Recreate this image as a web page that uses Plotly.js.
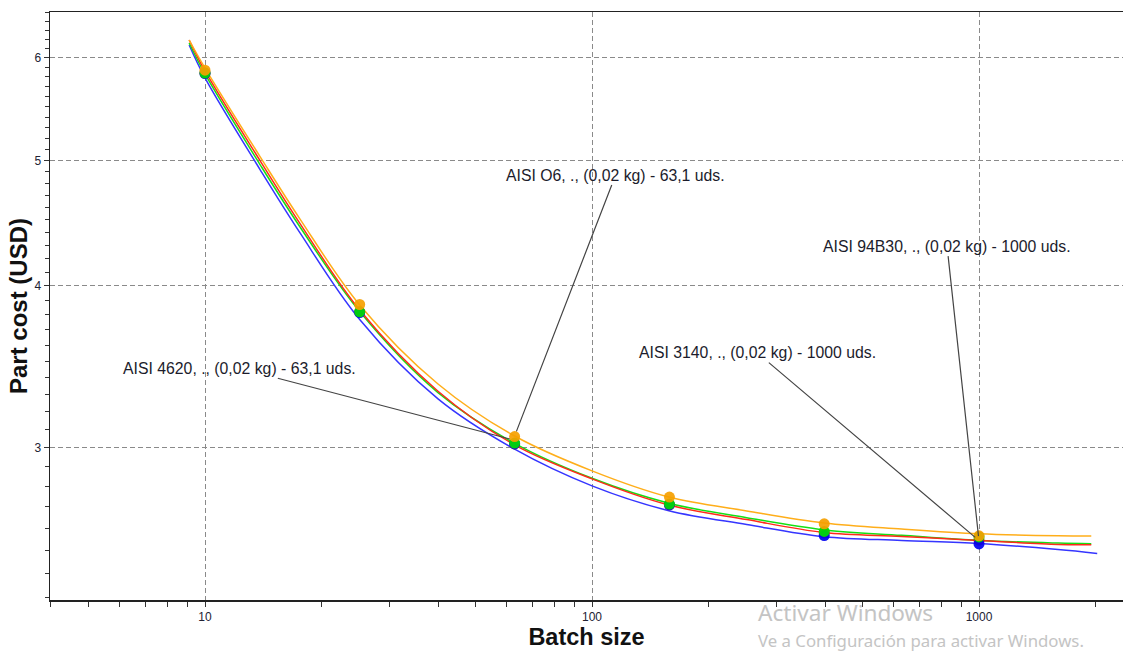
<!DOCTYPE html>
<html><head><meta charset="utf-8">
<script src="https://cdn.plot.ly/plotly-3.0.1.min.js"></script>
<style>html,body{margin:0;padding:0;background:#fff}#chart{width:1123px;height:651px}</style>
</head><body><div id="chart"></div>
<script>
// fitted curves
const curveX     = [9.1, 10, 13.9, 17.6, 25.1, 40, 63.1, 100, 158, 251, 398, 631, 1000, 1600, 1950];
const curveXBlue = [9.1, 10, 13.9, 17.6, 25.1, 40, 63.1, 100, 158, 251, 398, 631, 1000, 1600, 2020];
const orangeCurve = [6.194, 5.893, 5.030, 4.505, 3.867, 3.36, 3.063, 2.879, 2.748, 2.681, 2.624, 2.596, 2.574, 2.565, 2.564];
const redCurve    = [6.194, 5.862, 4.994, 4.469, 3.832, 3.317, 3.015, 2.838, 2.709, 2.640, 2.580, 2.562, 2.544, 2.526, 2.525];
const greenCurve  = [6.161, 5.831, 4.959, 4.442, 3.822, 3.309, 3.023, 2.841, 2.718, 2.649, 2.592, 2.567, 2.544, 2.532, 2.529];
const blueCurve   = [6.139, 5.790, 4.915, 4.395, 3.768, 3.272, 2.992, 2.803, 2.682, 2.617, 2.561, 2.544, 2.530, 2.503, 2.486];

// calculated points
const pointX    = [10, 25.1, 63.1, 158.5, 398.1, 1000];
const orangePts = [5.87, 3.87, 3.06, 2.748, 2.62, 2.565];
const redPts    = [5.84, 3.82, 3.02, 2.71, 2.578, 2.545];
const bluePts   = [5.835, 3.815, 3.02, 2.71, 2.566, 2.528];
const greenPts  = [5.84, 3.82, 3.025, 2.714, 2.585, 2.56];

// axes
const xMajorTicks = [10, 100, 1000];
const xMinorTicks = [4,5,6,7,8,9,20,30,40,50,60,70,80,90,200,300,400,500,600,700,800,900,2000];
const yMajorTicks = [3, 4, 5, 6];
const yMinorTicks = [2.3,2.4,2.5,2.6,2.7,2.8,2.9,3.1,3.2,3.3,3.4,3.5,3.6,3.7,3.8,3.9,
                     4.1,4.2,4.3,4.4,4.5,4.6,4.7,4.8,4.9,5.1,5.2,5.3,5.4,5.5,5.6,5.7,5.8,5.9,
                     6.1,6.2,6.3,6.4,6.5];

// labels
const labelTexts = ['AISI O6, ., (0,02 kg) - 63,1 uds.', 'AISI 4620, ., (0,02 kg) - 63,1 uds.',
                    'AISI 94B30, ., (0,02 kg) - 1000 uds.', 'AISI 3140, ., (0,02 kg) - 1000 uds.'];
const labelX = [63.1, 63.1, 1000, 1000];
const labelY = [3.063, 3.04, 2.541, 2.543];
const labelAx = [101, -275, -32, -222];
const labelAy = [-261, -72, -295, -188];

const colors = {orange:'#ffae1a', red:'#ff2a1a', green:'#14e014', blue:'#3535ff'};
const mcolors = {orange:'#f5a000', red:'#e02010', green:'#00dd00', blue:'#0000f0'};

const lineTrace = (x, y, c, name) => ({x, y, type:'scatter', mode:'lines', name,
  line:{color:c, width:1.5, shape:'spline', smoothing:1}, hoverinfo:'skip'});
const ptTrace = (y, c, name) => ({x:pointX, y, type:'scatter', mode:'markers', name,
  marker:{color:c, size:11, opacity:0.92, line:{width:0}}});

const data = [
  lineTrace(curveXBlue, blueCurve, colors.blue, 'AISI 4620'),
  lineTrace(curveX, greenCurve, colors.green, 'AISI 3140'),
  lineTrace(curveX, redCurve, colors.red, 'AISI 94B30'),
  lineTrace(curveX, orangeCurve, colors.orange, 'AISI O6'),
  ptTrace(redPts, mcolors.red, 'AISI 94B30'),
  ptTrace(bluePts, mcolors.blue, 'AISI 4620'),
  ptTrace(greenPts, mcolors.green, 'AISI 3140'),
  ptTrace(orangePts, mcolors.orange, 'AISI O6')
];

const annotations = labelTexts.map((t,i) => ({
  x: Math.log10(labelX[i]), y: Math.log10(labelY[i]), xref:'x', yref:'y',
  text: t, showarrow:true, arrowhead:0, arrowwidth:1.2, arrowcolor:'#444',
  ax: labelAx[i], ay: labelAy[i], standoff:5,
  font:{family:'Liberation Sans, Arial, sans-serif', size:15.8, color:'#1c1c2c'}
}));
annotations.push({xref:'paper', yref:'paper', x:0.658, y:-0.0221, xanchor:'left', yanchor:'middle',
  text:'Activar Windows', showarrow:false,
  font:{family:'Noto Sans, Open Sans, sans-serif', size:22.6, color:'#c4c4c4'}});
annotations.push({xref:'paper', yref:'paper', x:0.658, y:-0.0697, xanchor:'left', yanchor:'middle',
  text:'Ve a Configuración para activar Windows.', showarrow:false,
  font:{family:'Noto Sans, Open Sans, sans-serif', size:16.8, color:'#c4c4c4'}});

const titleFont = s => ({size:s, color:'#111', family:'Liberation Sans, Arial, sans-serif', weight:'bold'});

const layout = {
  width:1123, height:651,
  margin:{l:50, r:0, t:12, b:51},
  paper_bgcolor:'#fff', plot_bgcolor:'#fff',
  showlegend:false,
  font:{family:'Liberation Sans, Arial, sans-serif', color:'#223'},
  xaxis:{type:'log', range:[0.5995, 3.372], tickmode:'array', tickvals:xMajorTicks,
    ticktext:xMajorTicks.map(String), ticks:'outside', ticklen:5, tickwidth:1, tickcolor:'#333',
    showline:true, linecolor:'#222', linewidth:1.5, mirror:true,
    showgrid:true, gridcolor:'#8a8a8a', gridwidth:1, griddash:'5px,3px', zeroline:false,
    tickfont:{size:12, color:'#223'},
    minor:{tickmode:'array', tickvals:xMinorTicks, ticks:'outside', ticklen:5, tickcolor:'#333', showgrid:false},
    title:{text:'Batch size', font:titleFont(23.5), standoff:2}
  },
  yaxis:{type:'log', range:[0.3595, 0.8136], tickmode:'array', tickvals:yMajorTicks,
    ticktext:yMajorTicks.map(String), ticks:'outside', ticklen:5, tickwidth:1, tickcolor:'#333',
    showline:true, linecolor:'#222', linewidth:1.5, mirror:false,
    showgrid:true, gridcolor:'#8a8a8a', gridwidth:1, griddash:'5px,3px', zeroline:false,
    tickfont:{size:12, color:'#223'},
    minor:{tickmode:'array', tickvals:yMinorTicks, ticks:'outside', ticklen:4, tickcolor:'#333', showgrid:false},
    title:{text:'Part cost (USD)', font:titleFont(24), standoff:0}
  },
  annotations
};

Plotly.newPlot('chart', data, layout, {displayModeBar:false, staticPlot:true});
</script></body></html>
